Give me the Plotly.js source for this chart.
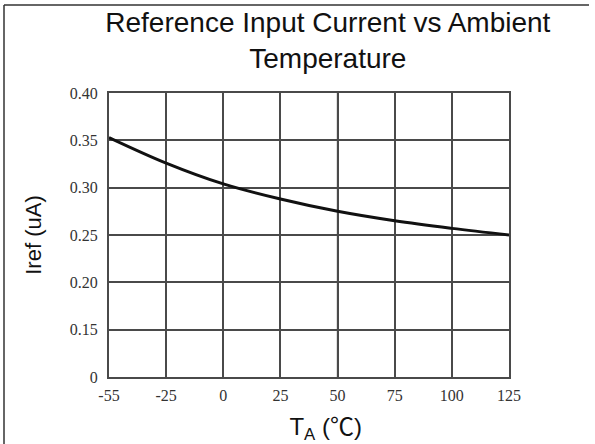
<!DOCTYPE html>
<html>
<head>
<meta charset="utf-8">
<script src="https://cdn.plot.ly/plotly-3.0.1.min.js"></script>
<style>html,body{margin:0;padding:0;background:#fff;}#chart{width:595px;height:444px;}</style>
</head>
<body>
<div id="chart"></div>
<script>
// Temperature categories (°C) — equally spaced on the original chart
const temperatures = ["-55", "-25", "0", "25", "50", "75", "100", "125"];
// Reference input current (uA)
const irefValues = [0.353, 0.326, 0.304, 0.288, 0.275, 0.265, 0.257, 0.250];
// Y-axis ticks: the bottom gridline is labelled "0" (axis break)
const yTickVals = [0.10, 0.15, 0.20, 0.25, 0.30, 0.35, 0.40];
const yTickText = ["0", "0.15", "0.20", "0.25", "0.30", "0.35", "0.40"];

const trace = {
  x: temperatures,
  y: irefValues,
  type: 'scatter',
  mode: 'lines',
  line: {color: '#111', width: 3, shape: 'spline', smoothing: 1},
  hoverinfo: 'skip'
};

const gridColor = '#4a4a4a';
const tickFont = {family: 'Liberation Serif, DejaVu Serif, serif', size: 16, color: '#333'};
const titleFont = {family: 'Liberation Sans, Arial, sans-serif', size: 22, color: '#111'};
const layout = {
  width: 595, height: 444,
  margin: {l: 109, r: 86, t: 93, b: 67},
  paper_bgcolor: '#fff', plot_bgcolor: '#fff',
  showlegend: false,
  title: {
    text: 'Reference Input Current vs Ambient<br>Temperature',
    font: {family: 'Liberation Sans, Arial, sans-serif', size: 28, color: '#111'},
    x: 0.551, xanchor: 'center', xref: 'container',
    y: 0.928, yanchor: 'middle', yref: 'container'
  },
  xaxis: {
    type: 'category',
    range: [0, 7],
    showgrid: true, gridcolor: gridColor, gridwidth: 2,
    showline: true, linecolor: gridColor, linewidth: 2, mirror: true,
    ticks: '', zeroline: false,
    ticklabelstandoff: 3,
    tickfont: tickFont,
    title: {
      text: '&nbsp;&nbsp;&nbsp;&nbsp;&nbsp;T<sub>A</sub> (<span style="font-family:Noto Sans CJK SC">℃</span>)',
      font: {family: 'Liberation Sans, Arial, sans-serif', size: 24, color: '#111'},
      standoff: 18
    },
    automargin: false
  },
  yaxis: {
    range: [0.10, 0.40],
    tickvals: yTickVals, ticktext: yTickText,
    showgrid: true, gridcolor: gridColor, gridwidth: 2,
    showline: true, linecolor: gridColor, linewidth: 2, mirror: true,
    ticks: '', zeroline: false,
    ticklabelstandoff: 6,
    tickfont: tickFont,
    title: {text: 'Iref (uA)', font: titleFont, standoff: 22},
    automargin: false
  },
  shapes: [
    // lighter gridline at 50 °C, as in the scan
    {type: 'line', xref: 'x', yref: 'paper', x0: 4, x1: 4, y0: 0, y1: 1, line: {color: '#b5b5b5', width: 2}, layer: 'below'},
    // outer frame (left and top edges)
    {type: 'line', xref: 'paper', yref: 'paper', x0: -0.2625, x1: -0.2625, y0: -0.3, y1: 1.31, line: {color: '#333', width: 1.5}},
    {type: 'line', xref: 'paper', yref: 'paper', x0: -0.2625, x1: 1.2, y0: 1.31, y1: 1.31, line: {color: '#333', width: 1.5}}
  ]
};

Plotly.newPlot('chart', [trace], layout, {displayModeBar: false, staticPlot: true});
</script>
</body>
</html>
